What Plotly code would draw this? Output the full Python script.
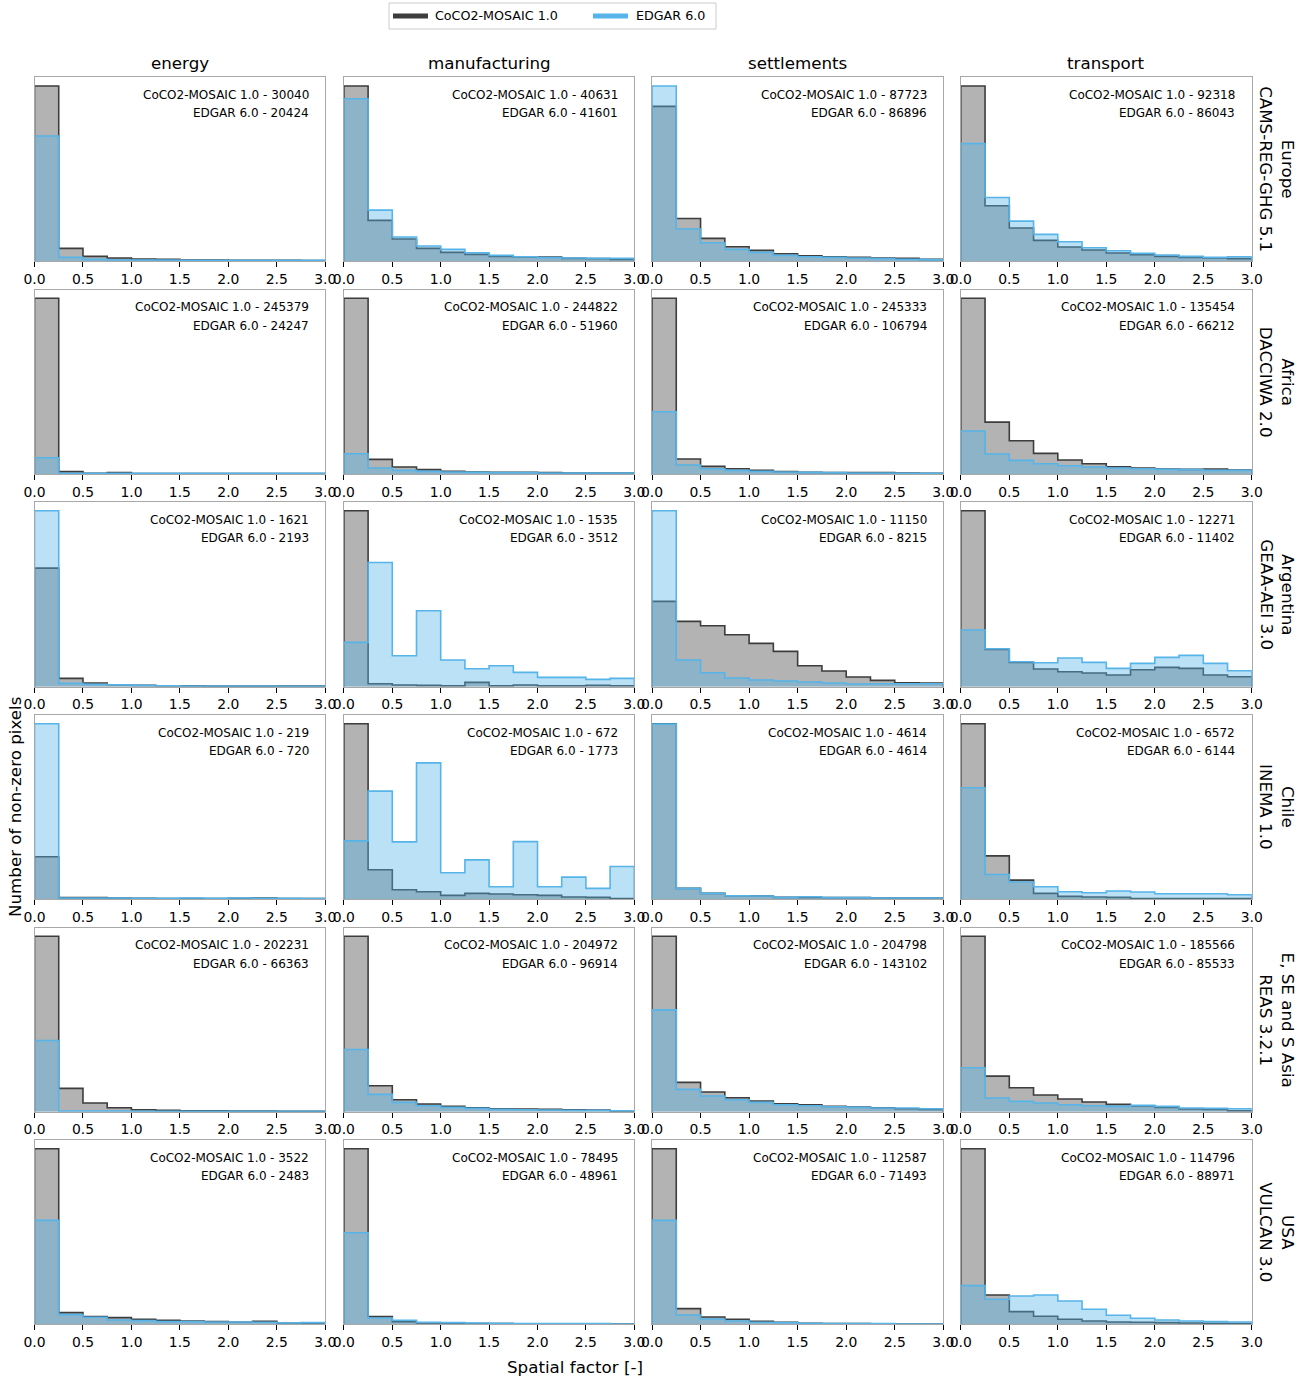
import plotly.graph_objects as go

W, H = 1309, 1381

# ---------------- data ----------------
SECTORS = ["energy", "manufacturing", "settlements", "transport"]
REGIONS = [
    "Europe<br>CAMS-REG-GHG 5.1",
    "Africa<br>DACCIWA 2.0",
    "Argentina<br>GEAA-AEI 3.0",
    "Chile<br>INEMA 1.0",
    "E, SE and S Asia<br>REAS 3.2.1",
    "USA<br>VULCAN 3.0",
]
BIN_EDGES = [0.0, 0.25, 0.5, 0.75, 1.0, 1.25, 1.5, 1.75, 2.0, 2.25, 2.5, 2.75, 3.0]
X_TICKS = [0.0, 0.5, 1.0, 1.5, 2.0, 2.5, 3.0]
X_TICK_LABELS = ["0.0", "0.5", "1.0", "1.5", "2.0", "2.5", "3.0"]

# relative bin heights (y axis is unlabeled in the original), per sector
COCO_EUROPE = [
    [526, 38, 14, 9, 6, 5, 3, 3, 2, 2, 2, 1],
    [526, 122, 66, 38, 26, 20, 14, 12, 12, 8, 7, 5],
    [465, 128, 68, 43, 32, 22, 16, 13, 11, 9, 8, 5],
    [526, 166, 99, 62, 42, 33, 24, 19, 14, 11, 9, 7],
]
EDGAR_EUROPE = [
    [376, 11, 5, 3, 3, 3, 2, 2, 2, 2, 2, 2],
    [488, 153, 72, 45, 35, 25, 17, 13, 10, 9, 8, 8],
    [526, 96, 55, 35, 26, 17, 13, 11, 9, 7, 5, 4],
    [353, 191, 120, 80, 58, 40, 31, 23, 18, 14, 11, 13],
]
COCO_AFRICA = [
    [528, 7, 2, 4, 1, 1, 1, 1, 1, 1, 1, 1],
    [528, 44, 21, 13, 8, 6, 5, 5, 4, 3, 3, 3],
    [528, 45, 23, 16, 11, 7, 5, 4, 4, 4, 3, 2],
    [528, 156, 100, 62, 42, 31, 22, 18, 15, 14, 15, 12],
]
EDGAR_AFRICA = [
    [49, 2, 2, 2, 2, 2, 2, 2, 2, 2, 2, 2],
    [61, 18, 11, 8, 6, 5, 4, 4, 3, 3, 3, 3],
    [187, 27, 16, 11, 8, 6, 5, 4, 3, 3, 2, 2],
    [129, 60, 41, 31, 25, 21, 18, 16, 14, 13, 11, 11],
]
COCO_ARGENTINA = [
    [356, 25, 11, 6, 4, 3, 3, 2, 2, 2, 2, 2],
    [528, 9, 5, 4, 3, 13, 3, 5, 3, 3, 4, 3],
    [256, 196, 183, 156, 130, 106, 63, 47, 29, 19, 12, 11],
    [528, 112, 73, 53, 45, 41, 35, 51, 58, 55, 35, 30],
]
EDGAR_ARGENTINA = [
    [528, 10, 7, 6, 4, 3, 2, 2, 2, 2, 1, 1],
    [133, 373, 93, 228, 80, 54, 63, 43, 28, 28, 22, 25],
    [528, 80, 42, 26, 20, 17, 14, 11, 8, 9, 9, 9],
    [170, 114, 75, 72, 86, 73, 55, 70, 88, 94, 70, 48],
]
COCO_CHILE = [
    [127, 4, 4, 3, 2, 1, 1, 1, 2, 3, 1, 1],
    [528, 88, 28, 22, 11, 17, 15, 13, 11, 6, 5, 1],
    [528, 32, 17, 10, 9, 5, 5, 4, 4, 3, 3, 3],
    [528, 130, 57, 17, 8, 6, 5, 1, 1, 1, 1, 1],
]
EDGAR_CHILE = [
    [527, 3, 3, 3, 2, 2, 3, 2, 3, 2, 2, 1],
    [175, 325, 172, 410, 79, 118, 37, 173, 37, 66, 32, 98],
    [527, 32, 17, 10, 9, 5, 7, 4, 4, 3, 3, 3],
    [335, 74, 51, 37, 22, 19, 24, 21, 16, 16, 16, 13],
]
COCO_ASIA = [
    [527, 70, 26, 12, 6, 4, 3, 3, 2, 2, 1, 1],
    [527, 78, 36, 23, 16, 12, 9, 8, 7, 6, 5, 2],
    [527, 88, 59, 42, 32, 24, 21, 16, 14, 12, 9, 7],
    [527, 107, 72, 50, 38, 29, 22, 17, 13, 8, 7, 3],
]
EDGAR_ASIA = [
    [214, 2, 2, 2, 1, 1, 1, 1, 1, 1, 1, 1],
    [187, 52, 28, 18, 13, 10, 7, 6, 5, 4, 4, 3],
    [306, 67, 47, 36, 28, 21, 18, 15, 13, 11, 11, 9],
    [132, 41, 31, 26, 21, 18, 16, 19, 16, 11, 10, 9],
]
COCO_USA = [
    [527, 35, 23, 20, 15, 12, 10, 8, 6, 9, 3, 3],
    [527, 23, 8, 4, 3, 2, 2, 1, 1, 1, 1, 1],
    [527, 47, 22, 15, 9, 6, 3, 2, 2, 1, 1, 1],
    [527, 88, 38, 24, 15, 10, 7, 6, 5, 4, 3, 2],
]
EDGAR_USA = [
    [312, 29, 21, 13, 11, 8, 8, 7, 7, 6, 4, 5],
    [275, 19, 12, 6, 5, 4, 3, 2, 2, 2, 2, 1],
    [312, 28, 16, 10, 6, 5, 3, 2, 2, 2, 1, 1],
    [116, 75, 85, 88, 70, 45, 27, 18, 13, 10, 8, 7],
]

# number of non-zero pixels (annotation counts)
COCO_COUNTS = [
    [30040, 40631, 87723, 92318],
    [245379, 244822, 245333, 135454],
    [1621, 1535, 11150, 12271],
    [219, 672, 4614, 6572],
    [202231, 204972, 204798, 185566],
    [3522, 78495, 112587, 114796],
]
EDGAR_COUNTS = [
    [20424, 41601, 86896, 86043],
    [24247, 51960, 106794, 66212],
    [2193, 3512, 8215, 11402],
    [720, 1773, 4614, 6144],
    [66363, 96914, 143102, 85533],
    [2483, 48961, 71493, 88971],
]

COCO_NAME = "CoCO2-MOSAIC 1.0"
EDGAR_NAME = "EDGAR 6.0"

COCO_ROWS = [COCO_EUROPE, COCO_AFRICA, COCO_ARGENTINA, COCO_CHILE, COCO_ASIA, COCO_USA]
EDGAR_ROWS = [EDGAR_EUROPE, EDGAR_AFRICA, EDGAR_ARGENTINA, EDGAR_CHILE, EDGAR_ASIA, EDGAR_USA]

# ---------------- styling / geometry ----------------
FONT = "DejaVu Sans"
COCO_LINE = "#3d3d3d"
COCO_FILL = "rgba(64,64,64,0.4)"
EDGAR_LINE = "#56b4e9"
EDGAR_FILL = "rgba(86,180,233,0.4)"
SPINE = "#a8a8a8"

COL_X = [(34.5, 325.3), (343.9, 634.3), (652.0, 943.3), (960.8, 1251.8)]
ROW_Y = [(77.3, 261.0), (289.5, 474.0), (502.0, 686.7), (715.0, 899.0),
         (927.5, 1111.7), (1140.0, 1324.3)]


def px(x):
    return x / W


def py(y):
    return 1 - y / H


def step_xy(values):
    xs = [BIN_EDGES[0]] + BIN_EDGES[:-1] + [BIN_EDGES[-1], BIN_EDGES[-1]]
    ys = [0] + list(values) + [values[-1], 0]
    return xs, ys


fig = go.Figure()
layout = dict(
    width=W, height=H,
    autosize=False,
    margin=dict(l=0, r=0, t=0, b=0, pad=0, autoexpand=False),
    paper_bgcolor="white", plot_bgcolor="white",
    font=dict(family=FONT, color="black"),
    showlegend=False,
)
annotations = []
shapes = []

for r in range(6):
    for c in range(4):
        k = r * 4 + c + 1
        xa = "x" if k == 1 else f"x{k}"
        ya = "y" if k == 1 else f"y{k}"
        coco = COCO_ROWS[r][c]
        edgar = EDGAR_ROWS[r][c]
        xs, ys = step_xy(coco)
        fig.add_trace(go.Scatter(
            x=xs, y=ys, xaxis=xa, yaxis=ya, mode="lines", name=COCO_NAME,
            line=dict(shape="hv", color=COCO_LINE, width=1.6),
            fill="tozeroy", fillcolor=COCO_FILL, hoverinfo="skip"))
        xs, ys = step_xy(edgar)
        fig.add_trace(go.Scatter(
            x=xs, y=ys, xaxis=xa, yaxis=ya, mode="lines", name=EDGAR_NAME,
            line=dict(shape="hv", color=EDGAR_LINE, width=1.6),
            fill="tozeroy", fillcolor=EDGAR_FILL, hoverinfo="skip"))

        x0, x1 = COL_X[c]
        y0, y1 = ROW_Y[r]
        ymax = max(max(coco), max(edgar)) * 1.05
        layout["xaxis" if k == 1 else f"xaxis{k}"] = dict(
            domain=[px(x0), px(x1)], anchor=ya, range=[0, 3],
            tickmode="array", tickvals=X_TICKS, ticktext=X_TICK_LABELS,
            ticks="outside", ticklen=5, tickwidth=1, tickcolor="black",
            tickfont=dict(size=13.9, family=FONT, color="black"),
            showline=True, linecolor=SPINE, linewidth=1, mirror=True,
            showgrid=False, zeroline=False, fixedrange=True, automargin=False,
        )
        layout["yaxis" if k == 1 else f"yaxis{k}"] = dict(
            domain=[py(y1), py(y0)], anchor=xa, range=[0, ymax],
            showticklabels=False, ticks="",
            showline=True, linecolor=SPINE, linewidth=1, mirror=True,
            showgrid=False, zeroline=False, fixedrange=True, automargin=False,
        )
        tx = px(x0 + 0.95 * (x1 - x0))
        annotations.append(dict(
            x=tx, y=py(y0 + 17.7), xref="paper", yref="paper",
            xanchor="right", yanchor="middle", showarrow=False,
            text=f"{COCO_NAME} - {COCO_COUNTS[r][c]}",
            font=dict(size=12.0, family=FONT, color="black")))
        annotations.append(dict(
            x=tx, y=py(y0 + 36.0), xref="paper", yref="paper",
            xanchor="right", yanchor="middle", showarrow=False,
            text=f"{EDGAR_NAME} - {EDGAR_COUNTS[r][c]}",
            font=dict(size=12.0, family=FONT, color="black")))

# column titles
for c, name in enumerate(SECTORS):
    x0, x1 = COL_X[c]
    annotations.append(dict(
        x=px((x0 + x1) / 2), y=py(63.3), xref="paper", yref="paper",
        xanchor="center", yanchor="middle", showarrow=False, text=name,
        font=dict(size=16.7, family=FONT, color="black")))

# row labels
for r, name in enumerate(REGIONS):
    y0, y1 = ROW_Y[r]
    annotations.append(dict(
        x=px(1277), y=py((y0 + y1) / 2), xref="paper", yref="paper",
        xanchor="center", yanchor="middle", showarrow=False, text=name,
        textangle=90, font=dict(size=16.7, family=FONT, color="black")))

# axis labels
annotations.append(dict(
    x=px(15), y=py((ROW_Y[3][0] + ROW_Y[3][1]) / 2), xref="paper", yref="paper",
    xanchor="center", yanchor="middle", showarrow=False,
    text="Number of non-zero pixels", textangle=-90,
    font=dict(size=16.7, family=FONT, color="black")))
annotations.append(dict(
    x=px(575), y=py(1367), xref="paper", yref="paper",
    xanchor="center", yanchor="middle", showarrow=False,
    text="Spatial factor [-]",
    font=dict(size=16.7, family=FONT, color="black")))

# legend (frame, handles, labels)
LEG_BOX = (389, 3, 716, 29)
shapes.append(dict(
    type="rect", xref="paper", yref="paper",
    x0=px(LEG_BOX[0]), x1=px(LEG_BOX[2]), y0=py(LEG_BOX[3]), y1=py(LEG_BOX[1]),
    line=dict(color="#cccccc", width=1), fillcolor="white", layer="above"))
for (lx0, lx1, tx, color, label) in [
    (393, 428, 433, COCO_LINE, COCO_NAME),
    (593, 628, 634, EDGAR_LINE, EDGAR_NAME),
]:
    shapes.append(dict(
        type="line", xref="paper", yref="paper",
        x0=px(lx0), x1=px(lx1), y0=py(16), y1=py(16),
        line=dict(color=color, width=5), layer="above"))
    annotations.append(dict(
        x=px(tx), y=py(16), xref="paper", yref="paper",
        xanchor="left", yanchor="middle", showarrow=False, text=label,
        font=dict(size=12.7, family=FONT, color="black")))

layout["annotations"] = annotations
layout["shapes"] = shapes
fig.update_layout(**layout)
fig.write_html("out.html")
